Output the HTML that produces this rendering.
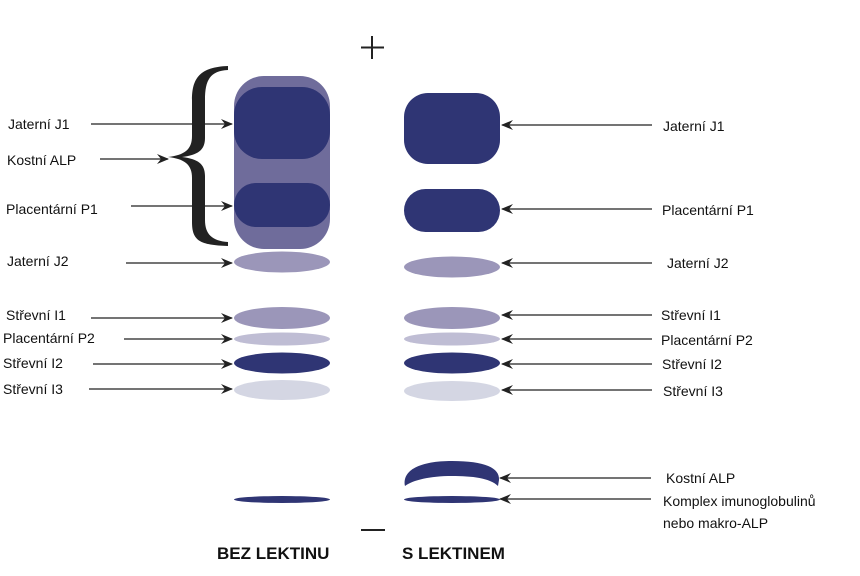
<!DOCTYPE html>
<html><head><meta charset="utf-8"><style>
html,body{margin:0;padding:0;background:#fff;}
svg{display:block;}
text{font-family:"Liberation Sans",sans-serif;font-size:14px;fill:#111;}
</style></head><body>
<svg width="860" height="576" viewBox="0 0 860 576" xmlns="http://www.w3.org/2000/svg">
<defs>
<marker id="a" markerWidth="12" markerHeight="10" refX="11" refY="5" orient="auto" markerUnits="userSpaceOnUse">
<path d="M0,0 L12,5 L0,10 L4,5 Z" fill="#222"/></marker>
</defs>
<!-- left column -->
<rect x="234" y="76" width="96" height="173" rx="30" fill="#6f6c9b"/>
<rect x="234" y="87" width="96" height="72" rx="28" fill="#2f3574"/>
<rect x="234" y="183" width="96" height="44" rx="22" fill="#2f3574"/>
<ellipse cx="282" cy="262" rx="48" ry="10.5" fill="#9b96b9"/>
<ellipse cx="282" cy="318" rx="48" ry="11" fill="#9b96b9"/>
<ellipse cx="282" cy="339" rx="48" ry="6.5" fill="#bfbdd4"/>
<ellipse cx="282" cy="363" rx="48" ry="10.5" fill="#2f3574"/>
<ellipse cx="282" cy="390" rx="48" ry="10" fill="#d4d6e3"/>
<ellipse cx="282" cy="499.5" rx="48" ry="3.5" fill="#2f3574"/>
<!-- right column -->
<rect x="404" y="93" width="96" height="71" rx="24" fill="#2f3574"/>
<rect x="404" y="189" width="96" height="43" rx="21.5" fill="#2f3574"/>
<ellipse cx="452" cy="267" rx="48" ry="10.5" fill="#9b96b9"/>
<ellipse cx="452" cy="318" rx="48" ry="11" fill="#9b96b9"/>
<ellipse cx="452" cy="339" rx="48" ry="6.5" fill="#bfbdd4"/>
<ellipse cx="452" cy="363" rx="48" ry="10.5" fill="#2f3574"/>
<ellipse cx="452" cy="391" rx="48" ry="10" fill="#d4d6e3"/>
<path d="M405,486 C402,470 420,461 452,461 C485,461 500,468 499,480 L498,486 C490,478 472,476 452,476 C430,476 413,480 405,486 Z" fill="#2f3574"/>
<ellipse cx="452" cy="499.5" rx="48" ry="3.5" fill="#2f3574"/>
<!-- brace -->
<path d="M228,66 C200,67 192,78 192,100 L192,136 C192,150 184,155 168,157 C184,159 192,164 192,178 L192,222 C192,241 200,245 228,246 L228,242 C212,241 205,234 205,220 L205,176 C205,164 198,159 182,157 C198,155 205,150 205,138 L205,100 C205,80 210,71 228,70 Z" fill="#222"/>
<!-- plus / minus -->
<path d="M372,36 V59 M361,47.5 H384" stroke="#222" stroke-width="2"/>
<path d="M361,530 H385" stroke="#222" stroke-width="2"/>
<!-- left arrows -->
<g stroke="#222" stroke-width="1.3" marker-end="url(#a)">
<line x1="91" y1="124" x2="232" y2="124"/>
<line x1="100" y1="159" x2="168" y2="159"/>
<line x1="131" y1="206" x2="232" y2="206"/>
<line x1="126" y1="263" x2="232" y2="263"/>
<line x1="91" y1="318" x2="232" y2="318"/>
<line x1="124" y1="339" x2="232" y2="339"/>
<line x1="93" y1="364" x2="232" y2="364"/>
<line x1="89" y1="389" x2="232" y2="389"/>
</g>
<!-- right arrows -->
<g stroke="#222" stroke-width="1.3" marker-end="url(#a)">
<line x1="652" y1="125" x2="502" y2="125"/>
<line x1="652" y1="209" x2="502" y2="209"/>
<line x1="652" y1="263" x2="502" y2="263"/>
<line x1="652" y1="315" x2="502" y2="315"/>
<line x1="652" y1="339" x2="502" y2="339"/>
<line x1="652" y1="364" x2="502" y2="364"/>
<line x1="652" y1="390" x2="502" y2="390"/>
<line x1="651" y1="478" x2="500" y2="478"/>
<line x1="651" y1="499" x2="500" y2="499"/>
</g>
<!-- left labels -->
<text x="8" y="129">Jaterní J1</text>
<text x="7" y="165">Kostní ALP</text>
<text x="6" y="214">Placentární P1</text>
<text x="7" y="266">Jaterní J2</text>
<text x="6" y="320">Střevní I1</text>
<text x="3" y="343">Placentární P2</text>
<text x="3" y="368">Střevní I2</text>
<text x="3" y="394">Střevní I3</text>
<!-- right labels -->
<text x="663" y="131">Jaterní J1</text>
<text x="662" y="215">Placentární P1</text>
<text x="667" y="268">Jaterní J2</text>
<text x="661" y="320">Střevní I1</text>
<text x="661" y="345">Placentární P2</text>
<text x="662" y="369">Střevní I2</text>
<text x="663" y="396">Střevní I3</text>
<text x="666" y="483">Kostní ALP</text>
<text x="663" y="506">Komplex imunoglobulinů</text>
<text x="663" y="528">nebo makro-ALP</text>
<!-- titles -->
<text x="217" y="559" style="font-size:17px;font-weight:bold">BEZ LEKTINU</text>
<text x="402" y="559" style="font-size:17px;font-weight:bold">S LEKTINEM</text>
</svg>
</body></html>
